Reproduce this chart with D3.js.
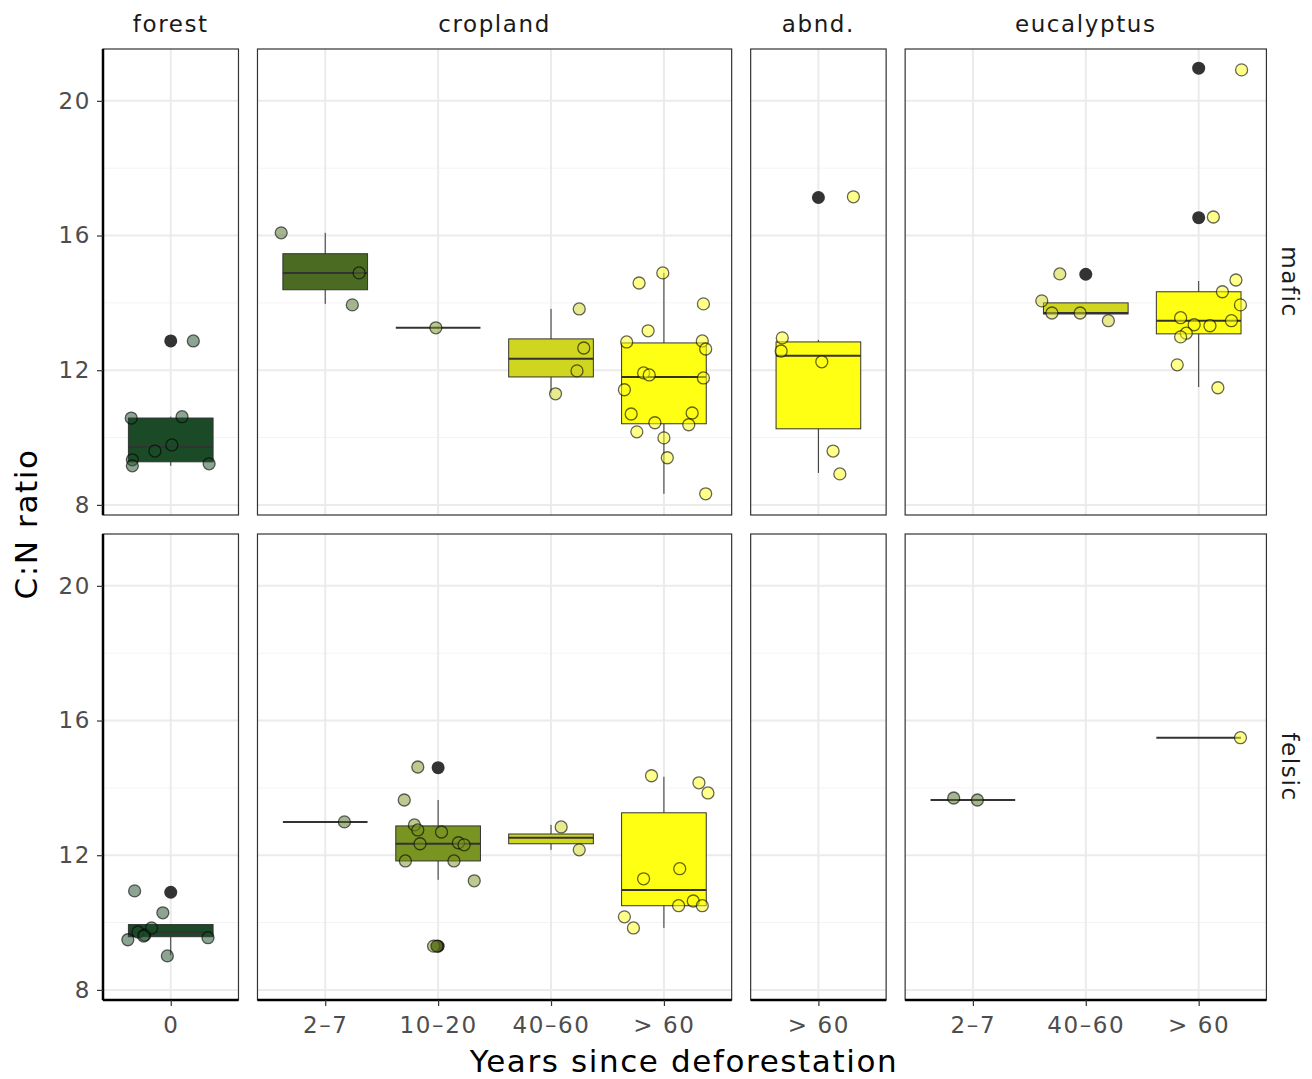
<!DOCTYPE html>
<html><head><meta charset="utf-8">
<script src="https://cdn.jsdelivr.net/npm/d3@7"></script>
<style>body{margin:0;background:#fff}text{font-family:"DejaVu Sans",sans-serif}</style>
</head><body><svg id="chart" width="1312" height="1079"></svg>
<script>
// facets and categories
const landUses = ['forest', 'cropland', 'abnd.', 'eucalyptus'];
const rocks = ['mafic', 'felsic'];
const catsByUse = {forest: ['0'], cropland: ['2\u20137', '10\u201320', '40\u201360', '> 60'], 'abnd.': ['> 60'], eucalyptus: ['2\u20137', '40\u201360', '> 60']};
const catColors = {'0': '#1b4a27', '2\u20137': '#4b6b23', '10\u201320': '#7a9421', '40\u201360': '#d0d51f', '> 60': '#ffff14'};
const yTicks = [8, 12, 16, 20];

// box stats: [rock, use, cat, lowWhisker, q1, median, q3, highWhisker]
const boxes = [
  ['mafic', 'forest', '0', 9.16, 9.28, 9.72, 10.58, 10.62],
  ['mafic', 'cropland', '2\u20137', 13.97, 14.39, 14.89, 15.46, 16.08],
  ['mafic', 'cropland', '10\u201320', 13.26, 13.26, 13.26, 13.26, 13.26],
  ['mafic', 'cropland', '40\u201360', 11.33, 11.8, 12.34, 12.93, 13.82],
  ['mafic', 'cropland', '> 60', 8.33, 10.41, 11.8, 12.81, 14.89],
  ['mafic', 'abnd.', '> 60', 8.95, 10.26, 12.43, 12.84, 12.9],
  ['mafic', 'eucalyptus', '40\u201360', 13.67, 13.67, 13.7, 14.0, 14.0],
  ['mafic', 'eucalyptus', '> 60', 11.5, 13.08, 13.47, 14.33, 14.65],
  ['felsic', 'forest', '0', 9.04, 9.58, 9.72, 9.94, 9.94],
  ['felsic', 'cropland', '2\u20137', 12.99, 12.99, 12.99, 12.99, 12.99],
  ['felsic', 'cropland', '10\u201320', 11.27, 11.83, 12.34, 12.87, 13.64],
  ['felsic', 'cropland', '40\u201360', 12.16, 12.34, 12.52, 12.63, 12.9],
  ['felsic', 'cropland', '> 60', 9.84, 10.5, 10.97, 13.26, 14.33],
  ['felsic', 'eucalyptus', '2\u20137', 13.64, 13.64, 13.64, 13.64, 13.64],
  ['felsic', 'eucalyptus', '> 60', 15.49, 15.49, 15.49, 15.49, 15.49]
];

// outliers: [rock, use, cat, value]
const outliers = [
  ['mafic', 'forest', '0', 12.87],
  ['mafic', 'abnd.', '> 60', 17.13],
  ['mafic', 'eucalyptus', '40\u201360', 14.85],
  ['mafic', 'eucalyptus', '> 60', 16.53],
  ['mafic', 'eucalyptus', '> 60', 20.97],
  ['felsic', 'forest', '0', 10.9],
  ['felsic', 'cropland', '10\u201320', 14.6],
  ['felsic', 'cropland', '10\u201320', 9.3]
];

// jittered observations: [rock, use, cat, jitter, value]
const points = [
  ['mafic','forest','0',-0.35,10.58],['mafic','forest','0',-0.34,9.34],['mafic','forest','0',-0.34,9.16],['mafic','forest','0',-0.14,9.6],['mafic','forest','0',0.01,9.78],['mafic','forest','0',0.1,10.62],['mafic','forest','0',0.2,12.87],['mafic','forest','0',0.34,9.22],
  ['mafic','cropland','2\u20137',-0.39,16.08],['mafic','cropland','2\u20137',0.3,14.89],['mafic','cropland','2\u20137',0.24,13.94],
  ['mafic','cropland','10\u201320',-0.02,13.26],
  ['mafic','cropland','40\u201360',0.04,11.3],['mafic','cropland','40\u201360',0.25,13.82],['mafic','cropland','40\u201360',0.29,12.66],['mafic','cropland','40\u201360',0.23,11.98],
  ['mafic','cropland','> 60',-0.01,14.89],['mafic','cropland','> 60',-0.22,14.59],['mafic','cropland','> 60',0.35,13.97],['mafic','cropland','> 60',-0.14,13.17],['mafic','cropland','> 60',-0.33,12.84],['mafic','cropland','> 60',0.34,12.87],['mafic','cropland','> 60',0.37,12.63],['mafic','cropland','> 60',-0.18,11.92],['mafic','cropland','> 60',-0.13,11.86],['mafic','cropland','> 60',0.35,11.77],['mafic','cropland','> 60',-0.35,11.42],['mafic','cropland','> 60',-0.29,10.7],['mafic','cropland','> 60',0.25,10.73],['mafic','cropland','> 60',-0.08,10.44],['mafic','cropland','> 60',0.22,10.38],['mafic','cropland','> 60',-0.24,10.17],['mafic','cropland','> 60',0,9.99],['mafic','cropland','> 60',0.03,9.4],['mafic','cropland','> 60',0.37,8.33],
  ['mafic','abnd.','> 60',-0.32,12.96],['mafic','abnd.','> 60',-0.33,12.57],['mafic','abnd.','> 60',0.03,12.25],['mafic','abnd.','> 60',0.13,9.6],['mafic','abnd.','> 60',0.19,8.92],['mafic','abnd.','> 60',0.31,17.15],
  ['mafic','eucalyptus','40\u201360',-0.39,14.06],['mafic','eucalyptus','40\u201360',-0.23,14.86],['mafic','eucalyptus','40\u201360',-0.3,13.7],['mafic','eucalyptus','40\u201360',-0.05,13.7],['mafic','eucalyptus','40\u201360',0.2,13.47],
  ['mafic','eucalyptus','> 60',0.38,20.92],['mafic','eucalyptus','> 60',0.13,16.55],['mafic','eucalyptus','> 60',0.33,14.68],['mafic','eucalyptus','> 60',0.21,14.33],['mafic','eucalyptus','> 60',0.37,13.94],['mafic','eucalyptus','> 60',-0.16,13.56],['mafic','eucalyptus','> 60',-0.04,13.35],['mafic','eucalyptus','> 60',0.29,13.47],['mafic','eucalyptus','> 60',0.1,13.32],['mafic','eucalyptus','> 60',-0.11,13.1],['mafic','eucalyptus','> 60',-0.16,12.99],['mafic','eucalyptus','> 60',-0.19,12.16],['mafic','eucalyptus','> 60',0.17,11.48],
  ['felsic','forest','0',-0.32,10.94],['felsic','forest','0',-0.38,9.49],['felsic','forest','0',-0.29,9.72],['felsic','forest','0',-0.23,9.63],['felsic','forest','0',-0.17,9.84],['felsic','forest','0',-0.24,9.6],['felsic','forest','0',-0.07,10.29],['felsic','forest','0',-0.03,9.01],['felsic','forest','0',0.33,9.55],
  ['felsic','cropland','2\u20137',0.17,12.99],
  ['felsic','cropland','10\u201320',-0.3,13.64],['felsic','cropland','10\u201320',-0.18,14.62],['felsic','cropland','10\u201320',-0.21,12.9],['felsic','cropland','10\u201320',-0.18,12.75],['felsic','cropland','10\u201320',-0.16,12.34],['felsic','cropland','10\u201320',-0.29,11.83],['felsic','cropland','10\u201320',0.03,12.69],['felsic','cropland','10\u201320',0.18,12.37],['felsic','cropland','10\u201320',0.23,12.31],['felsic','cropland','10\u201320',0.14,11.83],['felsic','cropland','10\u201320',0.32,11.24],['felsic','cropland','10\u201320',-0.04,9.3],['felsic','cropland','10\u201320',-0.01,9.3],
  ['felsic','cropland','40\u201360',0.09,12.84],['felsic','cropland','40\u201360',0.25,12.16],
  ['felsic','cropland','> 60',-0.11,14.36],['felsic','cropland','> 60',0.31,14.15],['felsic','cropland','> 60',0.39,13.85],['felsic','cropland','> 60',-0.18,11.3],['felsic','cropland','> 60',0.14,11.6],['felsic','cropland','> 60',0.26,10.64],['felsic','cropland','> 60',0.13,10.5],['felsic','cropland','> 60',0.34,10.5],['felsic','cropland','> 60',-0.35,10.17],['felsic','cropland','> 60',-0.27,9.84],
  ['felsic','eucalyptus','2\u20137',-0.17,13.7],['felsic','eucalyptus','2\u20137',0.04,13.64],
  ['felsic','eucalyptus','> 60',0.37,15.49]
];

const svg = d3.select('#chart');
const step = 112.9, gap = 19, left = 103;
const rowTop = {mafic: 49, felsic: 534}, rowH = 466;
const ls = '1.6px';
// panel x ranges (free space: width proportional to categories + expansion)
const panelX = {};
let px = left;
landUses.forEach(u => {
  const w = (catsByUse[u].length - 1 + 1.2) * step;
  panelX[u] = d3.scalePoint().domain(catsByUse[u]).range([px + 0.6 * step, px + w - 0.6 * step]);
  panelX[u].x0 = px; panelX[u].x1 = px + w;
  px += w + gap;
});

rocks.forEach(r => {
  const y = d3.scaleLinear().domain([7.70, 21.54]).range([rowTop[r] + rowH, rowTop[r]]);
  landUses.forEach(u => {
    const x = panelX[u];
    const g = svg.append('g');
    // grid
    d3.range(8, 22, 2).forEach(v => g.append('line').attr('x1', x.x0).attr('x2', x.x1).attr('y1', y(v)).attr('y2', y(v))
      .attr('stroke', v % 4 === 0 ? '#ebebeb' : '#f4f4f4').attr('stroke-width', v % 4 === 0 ? 2 : 1));
    catsByUse[u].forEach(c => g.append('line').attr('x1', x(c)).attr('x2', x(c)).attr('y1', rowTop[r]).attr('y2', rowTop[r] + rowH)
      .attr('stroke', '#ebebeb').attr('stroke-width', 2));
    const bw = step * 0.75;
    boxes.filter(b => b[0] === r && b[1] === u).forEach(b => {
      const cx = x(b[2]);
      g.append('line').attr('x1', cx).attr('x2', cx).attr('y1', y(b[3])).attr('y2', y(b[7])).attr('stroke', '#333').attr('stroke-width', 1);
      g.append('rect').attr('x', cx - bw / 2).attr('width', bw).attr('y', y(b[6])).attr('height', y(b[4]) - y(b[6]))
        .attr('fill', catColors[b[2]]).attr('stroke', '#333').attr('stroke-width', 1);
      g.append('line').attr('x1', cx - bw / 2).attr('x2', cx + bw / 2).attr('y1', y(b[5])).attr('y2', y(b[5])).attr('stroke', '#333').attr('stroke-width', 2);
    });
    outliers.filter(o => o[0] === r && o[1] === u).forEach(o =>
      g.append('circle').attr('cx', x(o[2])).attr('cy', y(o[3])).attr('r', 6.5).attr('fill', '#333'));
    points.filter(p => p[0] === r && p[1] === u).forEach(p =>
      g.append('circle').attr('cx', x(p[2]) + p[3] * step).attr('cy', y(p[4])).attr('r', 6)
        .attr('fill', catColors[p[2]]).attr('fill-opacity', 0.5).attr('stroke', '#000').attr('stroke-opacity', 0.6).attr('stroke-width', 1.3));
    g.append('rect').attr('x', x.x0).attr('y', rowTop[r]).attr('width', x.x1 - x.x0).attr('height', rowH)
      .attr('fill', 'none').attr('stroke', '#333').attr('stroke-width', 1.2);
    if (r === 'felsic') {
      const ax = g.append('g').attr('transform', `translate(0,${rowTop[r] + rowH})`)
        .call(d3.axisBottom(x).tickSize(6).tickPadding(11));
      ax.select('.domain').attr('d', `M${x.x0},0H${x.x1}`).attr('stroke', '#000').attr('stroke-width', 2.5);
      ax.selectAll('.tick line').attr('stroke', '#333').attr('stroke-width', 1.2);
      ax.selectAll('text').attr('font-size', 23).attr('fill', '#4d4d4d').style('font-family', 'DejaVu Sans').style('letter-spacing', ls);
    } else {
      svg.append('text').attr('x', (x.x0 + x.x1) / 2).attr('y', 32).attr('text-anchor', 'middle')
        .attr('font-size', 23).attr('fill', '#1a1a1a').style('letter-spacing', ls).text(u);
    }
  });
  const ay = svg.append('g').attr('transform', `translate(${left},0)`).call(d3.axisLeft(y).tickValues(yTicks).tickSize(6).tickPadding(6));
  ay.select('.domain').attr('d', `M0,${rowTop[r]}V${rowTop[r] + rowH}`).attr('stroke', '#000').attr('stroke-width', 2.5);
  ay.selectAll('.tick line').attr('stroke', '#333').attr('stroke-width', 1.2);
  ay.selectAll('text').attr('font-size', 23).attr('fill', '#4d4d4d').style('font-family', 'DejaVu Sans').style('letter-spacing', ls);
  const sx = 1282, sy = rowTop[r] + rowH / 2;
  svg.append('text').attr('transform', `translate(${sx},${sy}) rotate(90)`).attr('text-anchor', 'middle')
    .attr('font-size', 23).attr('fill', '#1a1a1a').style('letter-spacing', ls).text(r);
});

svg.append('text').attr('x', 684).attr('y', 1072).attr('text-anchor', 'middle').attr('font-size', 31).attr('fill', '#000').style('letter-spacing', '1.6px').text('Years since deforestation');
svg.append('text').attr('transform', 'translate(37,524) rotate(-90)').attr('text-anchor', 'middle').attr('font-size', 31).attr('fill', '#000').style('letter-spacing', '1.6px').text('C:N ratio');
</script></body></html>
